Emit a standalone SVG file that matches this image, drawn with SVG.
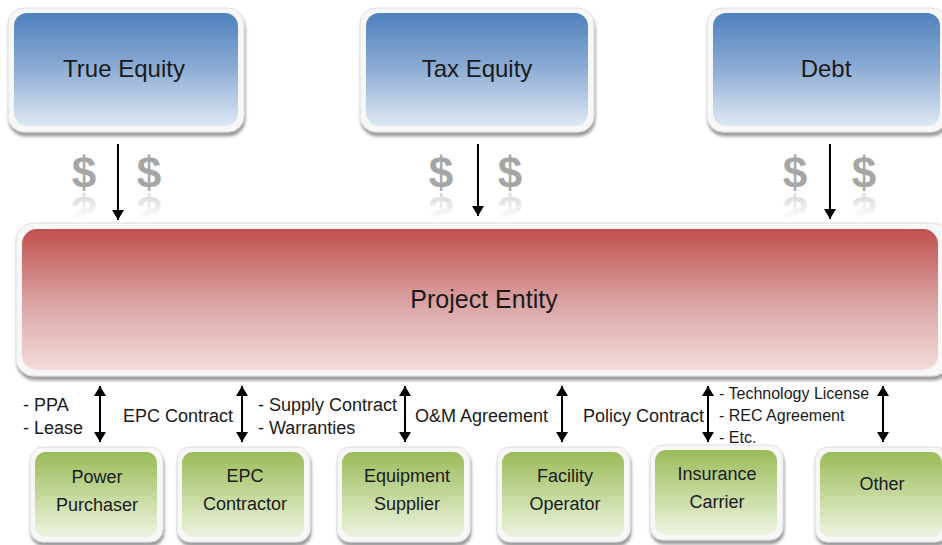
<svg xmlns="http://www.w3.org/2000/svg" width="942" height="545" viewBox="0 0 942 545">
<style>
text{font-family:"Liberation Sans",Arial,sans-serif;fill:#1a1a1a}
.frame{fill:#f7f7f7;stroke:#dedede;stroke-width:1;filter:url(#sh)}
.t1{font-size:24px;text-anchor:middle}
.t2{font-size:25px;text-anchor:middle}
.t3{font-size:18px;text-anchor:middle}
.lbl{font-size:18px}
.lbs{font-size:16px}
.dol{font-size:44px;font-weight:bold;fill:#a6a6a6;text-anchor:middle}
.ref{font-size:44px;font-weight:bold;fill:url(#refl);text-anchor:middle}
.ln{stroke:#000;stroke-width:2;fill:none}
</style>
<defs>
<filter id="sh" x="-10%" y="-10%" width="120%" height="130%">
<feDropShadow dx="1" dy="4" stdDeviation="1.5" flood-color="#5a5a5a" flood-opacity="0.6"/>
</filter>
<linearGradient id="blue" x1="0" y1="0" x2="0" y2="1">
<stop offset="0" stop-color="#4f81bd"/>
<stop offset="0.45" stop-color="#87a8d2"/>
<stop offset="1" stop-color="#dfe8f3"/>
</linearGradient>
<linearGradient id="red" x1="0" y1="0" x2="0" y2="1">
<stop offset="0" stop-color="#c0504d"/>
<stop offset="0.5" stop-color="#d9a0a0"/>
<stop offset="1" stop-color="#f4dcdc"/>
</linearGradient>
<linearGradient id="green" x1="0" y1="0" x2="0" y2="1">
<stop offset="0" stop-color="#9bbb59"/>
<stop offset="0.5" stop-color="#c4d89b"/>
<stop offset="1" stop-color="#eef4e2"/>
</linearGradient>
<linearGradient id="refl" x1="0" y1="0" x2="0" y2="1">
<stop offset="0.35" stop-color="#a6a6a6" stop-opacity="0"/>
<stop offset="1" stop-color="#a6a6a6" stop-opacity="0.55"/>
</linearGradient>
<marker id="ah" viewBox="0 0 10 12" refX="10" refY="6" markerWidth="10" markerHeight="12" markerUnits="userSpaceOnUse" orient="auto-start-reverse">
<path d="M0,0 L10,6 L0,12 Z" fill="#000"/>
</marker>
</defs>
<rect width="942" height="545" fill="#fff"/>

<g id="true-equity">
<rect class="frame" x="8" y="8" width="236" height="124" rx="16"/>
<rect x="14" y="13" width="224" height="113" rx="13" fill="url(#blue)"/>
<text class="t1" x="124" y="77">True Equity</text>
</g>
<g id="tax-equity">
<rect class="frame" x="360" y="8" width="234" height="124" rx="16"/>
<rect x="366" y="13" width="222" height="113" rx="13" fill="url(#blue)"/>
<text class="t1" x="477" y="77">Tax Equity</text>
</g>
<g id="debt">
<rect class="frame" x="707" y="8" width="240" height="124" rx="16"/>
<rect x="713" y="13" width="227" height="113" rx="13" fill="url(#blue)"/>
<text class="t1" x="826" y="77">Debt</text>
</g>

<g id="dollars">
<text class="dol" x="84" y="188">$</text>
<text class="dol" x="149" y="188">$</text>
<text class="dol" x="441" y="188">$</text>
<text class="dol" x="510" y="188">$</text>
<text class="dol" x="795" y="188">$</text>
<text class="dol" x="864" y="188">$</text>
<g transform="translate(0,384) scale(1,-1)">
<text class="ref" x="84" y="188">$</text>
<text class="ref" x="149" y="188">$</text>
<text class="ref" x="441" y="188">$</text>
<text class="ref" x="510" y="188">$</text>
<text class="ref" x="795" y="188">$</text>
<text class="ref" x="864" y="188">$</text>
</g>
</g>

<g id="project-entity">
<rect class="frame" x="16" y="223" width="934" height="153" rx="18"/>
<rect x="22" y="229" width="916" height="141" rx="15" fill="url(#red)"/>
<text class="t2" x="484" y="308">Project Entity</text>
</g>

<g id="power-purchaser">
<rect class="frame" x="30" y="447" width="133" height="95" rx="13"/>
<rect x="35" y="452" width="122" height="85" rx="11" fill="url(#green)"/>
<text class="t3" x="97" y="483">Power</text>
<text class="t3" x="97" y="511">Purchaser</text>
</g>
<g id="epc-contractor">
<rect class="frame" x="177" y="447" width="133" height="95" rx="13"/>
<rect x="182" y="452" width="122" height="85" rx="11" fill="url(#green)"/>
<text class="t3" x="245" y="482">EPC</text>
<text class="t3" x="245" y="510">Contractor</text>
</g>
<g id="equipment-supplier">
<rect class="frame" x="337" y="447" width="133" height="95" rx="13"/>
<rect x="342" y="452" width="122" height="85" rx="11" fill="url(#green)"/>
<text class="t3" x="407" y="482">Equipment</text>
<text class="t3" x="407" y="510">Supplier</text>
</g>
<g id="facility-operator">
<rect class="frame" x="497" y="447" width="133" height="95" rx="13"/>
<rect x="502" y="452" width="122" height="85" rx="11" fill="url(#green)"/>
<text class="t3" x="565" y="482">Facility</text>
<text class="t3" x="565" y="510">Operator</text>
</g>
<g id="insurance-carrier">
<rect class="frame" x="650" y="445" width="133" height="95" rx="13"/>
<rect x="655" y="450" width="122" height="85" rx="11" fill="url(#green)"/>
<text class="t3" x="717" y="480">Insurance</text>
<text class="t3" x="717" y="508">Carrier</text>
</g>
<g id="other">
<rect class="frame" x="815" y="447" width="133" height="95" rx="13"/>
<rect x="820" y="452" width="122" height="85" rx="11" fill="url(#green)"/>
<text class="t3" x="882" y="490">Other</text>
</g>

<g id="connectors">
<line class="ln" x1="118" y1="144" x2="118" y2="220" marker-end="url(#ah)"/>
<line class="ln" x1="478" y1="144" x2="478" y2="216" marker-end="url(#ah)"/>
<line class="ln" x1="830" y1="144" x2="830" y2="219" marker-end="url(#ah)"/>
<line class="ln" x1="100" y1="386" x2="100" y2="442" marker-start="url(#ah)" marker-end="url(#ah)"/>
<line class="ln" x1="242" y1="386" x2="242" y2="442" marker-start="url(#ah)" marker-end="url(#ah)"/>
<line class="ln" x1="405" y1="386" x2="405" y2="442" marker-start="url(#ah)" marker-end="url(#ah)"/>
<line class="ln" x1="562" y1="386" x2="562" y2="442" marker-start="url(#ah)" marker-end="url(#ah)"/>
<line class="ln" x1="708" y1="386" x2="708" y2="442" marker-start="url(#ah)" marker-end="url(#ah)"/>
<line class="ln" x1="883" y1="386" x2="883" y2="442" marker-start="url(#ah)" marker-end="url(#ah)"/>
</g>

<g id="labels">
<text class="lbl" x="23" y="411">- PPA</text>
<text class="lbl" x="23" y="434">- Lease</text>
<text class="lbl" x="233" y="422" text-anchor="end">EPC Contract</text>
<text class="lbl" x="258" y="411">- Supply Contract</text>
<text class="lbl" x="258" y="434">- Warranties</text>
<text class="lbl" x="415" y="422">O&amp;M Agreement</text>
<text class="lbl" x="704" y="422" text-anchor="end">Policy Contract</text>
<text class="lbs" x="719" y="399">- Technology License</text>
<text class="lbs" x="719" y="421">- REC Agreement</text>
<text class="lbs" x="719" y="443">- Etc.</text>
</g>
</svg>
